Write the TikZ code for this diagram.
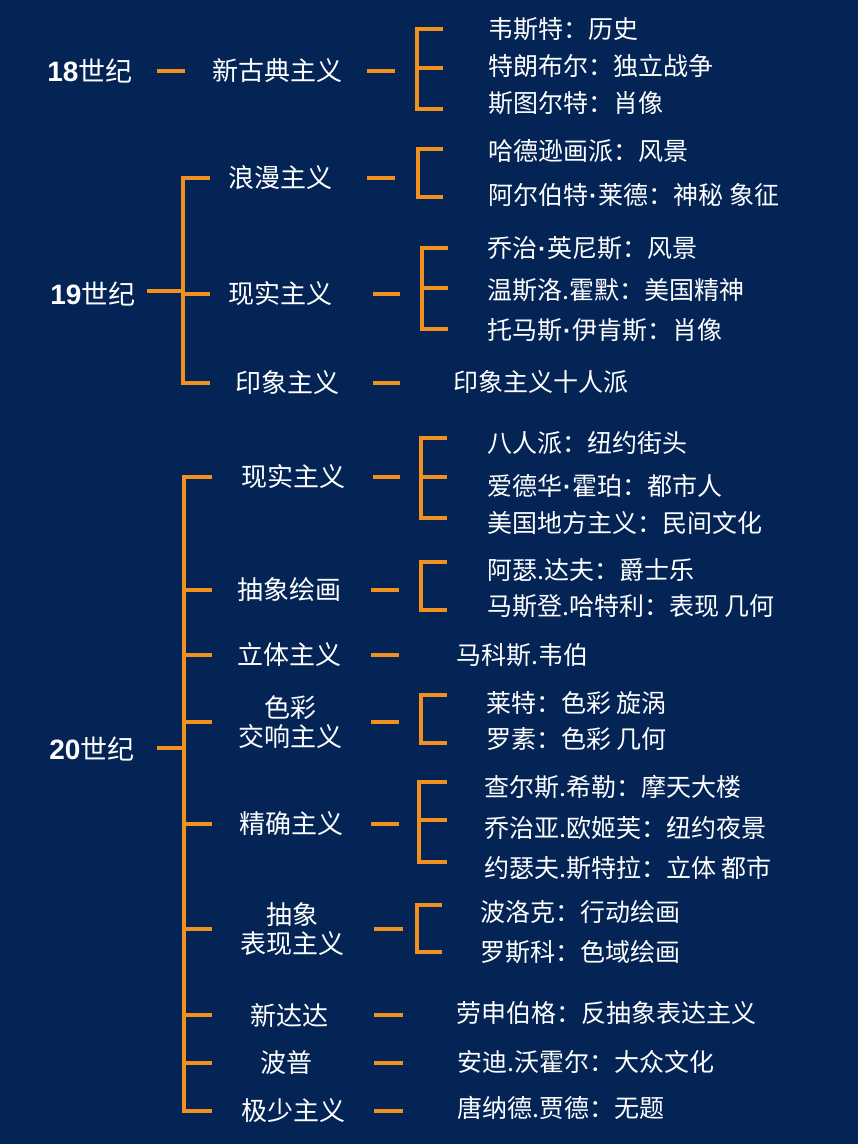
\documentclass[tikz,border=0pt]{standalone}
\usepackage{fontspec}
\setmainfont{Noto Sans CJK SC}
\newfontfamily\arialish{Liberation Sans}
\usetikzlibrary{calc}
\definecolor{navy}{RGB}{3,36,85}
\definecolor{amber}{RGB}{240,145,32}
\newcommand{\md}{{\arialish\bfseries\kern1pt·\kern1pt}}
\newcommand{\yr}[1]{{\arialish\bfseries\fontsize{28}{30}\selectfont #1}}
\tikzset{
  bar/.style={amber, line width=4.6pt},
  era/.style={white, inner sep=0pt, font=\fontsize{27}{30}\selectfont},
  school/.style={white, inner sep=0pt, align=center, font=\fontsize{26}{29}\selectfont},
  work/.style={white, inner sep=0pt, anchor=west, font=\fontsize{25}{30}\selectfont},
}

\begin{document}
\begin{tikzpicture}[x=1pt,y=-1pt]
\fill[navy] (0,0) rectangle (858,1144);
\useasboundingbox (0,0) rectangle (858,1144);

% centuries
\node[era] (c18) at (90,71) {\yr{18}世纪};
\node[era] (c19) at (93,294) {\yr{19}世纪};
\node[era] (c20) at (92,749) {\yr{20}世纪};

% movements
\node[school] (neo) at (277,71) {新古典主义};
\node[school] (roman) at (280,178) {浪漫主义};
\node[school] (real19) at (280,294) {现实主义};
\node[school] (impr) at (287,383) {印象主义};
\node[school] (real20) at (293,477) {现实主义};
\node[school] (abst) at (289,590) {抽象绘画};
\node[school] (cubism) at (289,655) {立体主义};
\node[school] (synchr) at (290,722) {色彩\\交响主义};
\node[school] (precis) at (291,824) {精确主义};
\node[school] (abex) at (292,929) {抽象\\表现主义};
\node[school] (neodada) at (289,1015) {新达达};
\node[school] (pop) at (286,1063) {波普};
\node[school] (minimal) at (293,1111) {极少主义};

% artists
\node[work] (neo1) at (488,29) {韦斯特：历史};
\node[work] (neo2) at (488,66) {特朗布尔：独立战争};
\node[work] (neo3) at (488,103) {斯图尔特：肖像};
\node[work] (roman1) at (488,151) {哈德逊画派：风景};
\node[work] (roman2) at (488,195) {阿尔伯特\md 莱德：神秘 象征};
\node[work] (real1) at (487,248) {乔治\md 英尼斯：风景};
\node[work] (real2) at (487,290) {温斯洛.霍默：美国精神};
\node[work] (real3) at (487,330) {托马斯\md 伊肯斯：肖像};
\node[work] (impr1) at (453,382) {印象主义十人派};
\node[work] (real4) at (487,443) {八人派：纽约街头};
\node[work] (real5) at (487,486) {爱德华\md 霍珀：都市人};
\node[work] (real6) at (487,523) {美国地方主义：民间文化};
\node[work] (abst1) at (487,570) {阿瑟.达夫：爵士乐};
\node[work] (abst2) at (487,606) {马斯登.哈特利：表现 几何};
\node[work] (cub1) at (456,655) {马科斯.韦伯};
\node[work] (syn1) at (486,703) {莱特：色彩 旋涡};
\node[work] (syn2) at (486,739) {罗素：色彩 几何};
\node[work] (pre1) at (484,787) {查尔斯.希勒：摩天大楼};
\node[work] (pre2) at (484,828) {乔治亚.欧姬芙：纽约夜景};
\node[work] (pre3) at (484,868) {约瑟夫.斯特拉：立体 都市};
\node[work] (abex1) at (480,912) {波洛克：行动绘画};
\node[work] (abex2) at (480,952) {罗斯科：色域绘画};
\node[work] (dada1) at (456,1013) {劳申伯格：反抽象表达主义};
\node[work] (pop1) at (457,1062) {安迪.沃霍尔：大众文化};
\node[work] (min1) at (457,1108) {唐纳德.贾德：无题};

% dashes out of the centuries
\draw[bar] (157,0 |- neo) -- (185,0 |- neo);
\draw[bar] (147,291) -- (183,291);
\draw[bar] (157,748) -- (183,748);

% 19th century tree
\draw[bar] (210,0 |- roman) -| (183,0 |- impr) -- (210,0 |- impr);
\draw[bar] (183,0 |- real19) -- (210,0 |- real19);

% 20th century tree
\draw[bar] (212,0 |- real20) -| (184,0 |- minimal) -- (212,0 |- minimal);
\foreach \s in {abst,cubism,synchr,precis,abex,neodada,pop}
  \draw[bar] (184,0 |- \s) -- (212,0 |- \s);

% dashes out of the movements
\draw[bar] (367,0 |- neo) -- (395,0 |- neo);
\draw[bar] (367,0 |- roman) -- (395,0 |- roman);
\foreach \s in {real19,impr,real20}
  \draw[bar] (373,0 |- \s) -- (400,0 |- \s);
\foreach \s in {abst,cubism,synchr,precis}
  \draw[bar] (371,0 |- \s) -- (399,0 |- \s);
\foreach \s in {abex,neodada,pop,minimal}
  \draw[bar] (374,0 |- \s) -- (403,0 |- \s);

% brackets
\draw[bar] (443,29) -| (417,109) -- (443,109);
\draw[bar] (417,68) -- (443,68);
\draw[bar] (443,149) -| (418,197) -- (443,197);
\draw[bar] (448,248) -| (422,329) -- (448,329);
\draw[bar] (422,288) -- (448,288);
\draw[bar] (447,438) -| (421,518) -- (447,518);
\draw[bar] (421,477) -- (447,477);
\draw[bar] (447,562) -| (421,610) -- (447,610);
\draw[bar] (447,695) -| (421,743) -- (447,743);
\draw[bar] (447,782) -| (419,862) -- (447,862);
\draw[bar] (419,820) -- (447,820);
\draw[bar] (442,905) -| (417,952) -- (442,952);
\end{tikzpicture}
\end{document}
